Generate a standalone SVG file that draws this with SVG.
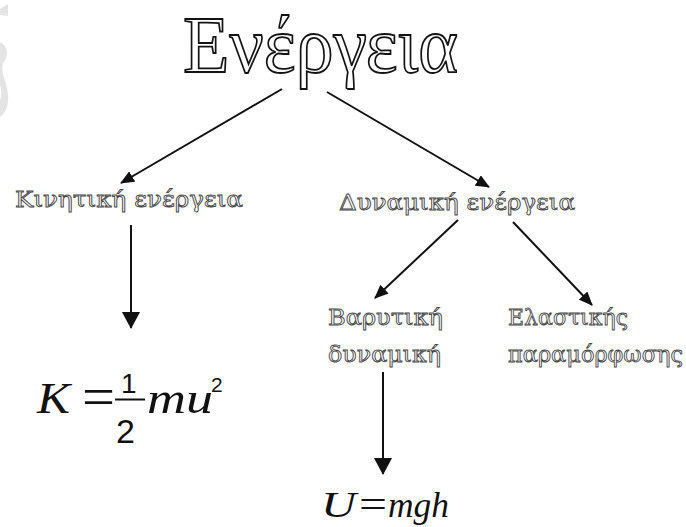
<svg xmlns="http://www.w3.org/2000/svg" width="686" height="527" viewBox="0 0 686 527">
  <style>
    .title { font-family: "Liberation Serif", "DejaVu Serif", serif; font-size: 80px; fill: #ffffff; stroke: #111; stroke-width: 1.8px; }
    .lbl { font-family: "DejaVu Serif", "Liberation Serif", serif; font-size: 23px; fill: #ffffff; stroke: #444; stroke-width: 0.9px; }
    .math { font-family: "Liberation Serif", "DejaVu Serif", serif; font-style: italic; fill: #111; }
    .num { font-family: "Liberation Sans", "DejaVu Sans", sans-serif; fill: #111; }
    .eq { font-family: "Liberation Serif", "DejaVu Serif", serif; fill: #111; }
    .conn { stroke: #111; stroke-width: 2; fill: none; }
    .node { opacity: 0.99; }
  </style>
  <defs>
    <marker id="ah" markerWidth="14" markerHeight="12" refX="13" refY="6" orient="auto" markerUnits="userSpaceOnUse">
      <path d="M0,0 L14,6 L0,12 z" fill="#111"/>
    </marker>
    <marker id="ahv" markerWidth="17" markerHeight="18" refX="16" refY="9" orient="auto" markerUnits="userSpaceOnUse">
      <path d="M0,0 L17,9 L0,18 z" fill="#111"/>
    </marker>
  </defs>
  <rect width="686" height="527" fill="#ffffff"/>
  <g id="watermark" fill="#e4e4e4">
    <path d="M0,9 L8,4 L8,16 L0,15 z"/>
    <path d="M0,42 C8,46 9,55 4,62 C-2,72 10,84 8,102 C7,110 3,115 0,117 L0,100 C3,92 0,84 -2,80 L0,42 z"/>
  </g>
  <g id="connectors">
    <line class="conn" x1="282" y1="89" x2="121" y2="183" marker-end="url(#ah)"/>
    <line class="conn" x1="327" y1="92" x2="489" y2="187" marker-end="url(#ah)"/>
    <line class="conn" x1="131" y1="225" x2="131" y2="328" marker-end="url(#ahv)"/>
    <line class="conn" x1="458" y1="220" x2="375" y2="298" marker-end="url(#ah)"/>
    <line class="conn" x1="513" y1="222" x2="592" y2="305" marker-end="url(#ah)"/>
    <line class="conn" x1="383" y1="372" x2="383" y2="474" marker-end="url(#ahv)"/>
  </g>
  <g id="energy" class="node">
    <text class="title" x="183" y="72" textLength="275" lengthAdjust="spacingAndGlyphs">Ενέργεια</text>
  </g>
  <g id="kinetic" class="node">
    <text class="lbl" x="15" y="207" textLength="228" lengthAdjust="spacingAndGlyphs">Κινητική ενέργεια</text>
  </g>
  <g id="potential" class="node">
    <text class="lbl" x="339" y="210" textLength="236" lengthAdjust="spacingAndGlyphs">Δυναμική ενέργεια</text>
  </g>
  <g id="gravitational" class="node">
    <text class="lbl" x="328" y="325" textLength="115" lengthAdjust="spacingAndGlyphs">Βαρυτική</text>
    <text class="lbl" x="328" y="362" textLength="113" lengthAdjust="spacingAndGlyphs">δυναμική</text>
  </g>
  <g id="elastic" class="node">
    <text class="lbl" x="508" y="325" textLength="120" lengthAdjust="spacingAndGlyphs">Ελαστικής</text>
    <text class="lbl" x="508" y="362" textLength="175" lengthAdjust="spacingAndGlyphs">παραμόρφωσης</text>
  </g>
  <g id="kinetic-formula">
    <text class="math" x="37" y="413" font-size="45" textLength="33" lengthAdjust="spacingAndGlyphs">K</text>
    <text class="eq" x="82" y="416" font-size="58" textLength="33" lengthAdjust="spacingAndGlyphs">=</text>
    <text class="num" x="121" y="393" font-size="28">1</text>
    <line x1="115" y1="399.5" x2="145" y2="399.5" stroke="#111" stroke-width="2"/>
    <text class="num" x="116" y="443" font-size="34">2</text>
    <text class="math" x="147" y="413" font-size="45" textLength="66" lengthAdjust="spacingAndGlyphs">mu</text>
    <text class="num" x="211" y="392" font-size="21">2</text>
  </g>
  <g id="gravity-formula">
    <text class="math" x="321" y="517" font-size="36" textLength="35" lengthAdjust="spacingAndGlyphs">U</text>
    <text class="eq" x="359" y="518" font-size="40" textLength="28" lengthAdjust="spacingAndGlyphs">=</text>
    <text class="math" x="388" y="517" font-size="36" textLength="61" lengthAdjust="spacingAndGlyphs">mgh</text>
  </g>
</svg>
